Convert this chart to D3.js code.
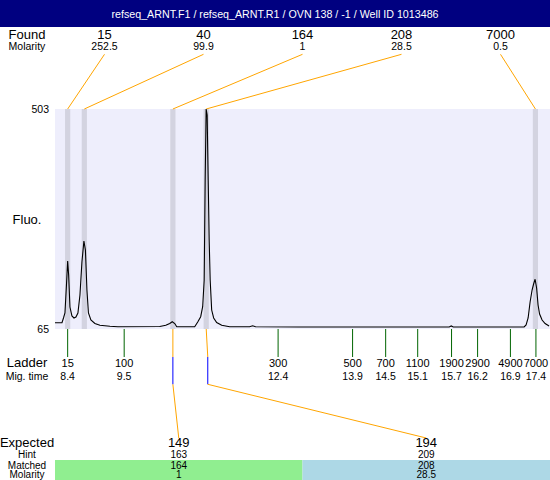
<!DOCTYPE html>
<html>
<head>
<meta charset="utf-8">
<script src="https://cdn.jsdelivr.net/npm/d3@7"></script>
<style>
  body { margin: 0; background: #fff; }
  svg { display: block; font-family: "Liberation Sans", Arial, sans-serif; }
</style>
</head>
<body>
<svg width="550" height="480"></svg>
<script>
const title = "refseq_ARNT.F1 / refseq_ARNT.R1 / OVN 138 / -1 / Well ID 1013486";

// found peaks
const foundSize = [15, 40, 164, 208, 7000];
const foundMolarity = ["252.5", "99.9", "1", "28.5", "0.5"];
const foundTime = [8.40, 8.72, 10.42, 11.06, 17.38];

// ladder (label text + measured peak position)
const ladderSize = [15, 100, 300, 500, 700, 1100, 1900, 2900, 4900, 7000];
const ladderLabel = ["8.4", "9.5", "12.4", "13.9", "14.5", "15.1", "15.7", "16.2", "16.9", "17.4"];
const ladderTime = [8.40, 9.485, 12.44, 13.87, 14.505, 15.12, 15.77, 16.27, 16.90, 17.39];

// expected fragments
const expectedSize = [149, 194];
const hintSize = [163, 209];
const hintTime = [10.42, 11.09];
const matchedSize = [164, 208];
const matchedMolarity = ["1", "28.5"];

// electropherogram trace (migration time, fluorescence)
const traceTime = [8.157, 8.291, 8.32, 8.348, 8.377, 8.40, 8.419, 8.444, 8.482, 8.521,
  8.559, 8.597, 8.636, 8.674, 8.712, 8.741, 8.770, 8.799, 8.846, 8.923,
  9.019, 9.211, 9.364, 10.168, 10.284, 10.36, 10.408, 10.456, 10.494, 10.839,
  10.897, 10.954, 10.992, 11.021, 11.040, 11.059, 11.078, 11.098, 11.117, 11.136,
  11.165, 11.203, 11.261, 11.357, 11.510, 11.893, 11.951, 12.008, 12.851, 15.725,
  15.764, 15.802, 17.163, 17.201, 17.24, 17.278, 17.316, 17.345, 17.374, 17.403,
  17.431, 17.46, 17.508, 17.566, 17.642];
const traceFluo = [77.5, 77.5, 86.9, 96.9, 152.6, 200.4, 172.5, 108.8, 90.9, 86.9,
  88.9, 96.9, 132.7, 198.4, 240.2, 222.3, 142.6, 96.9, 82.9, 75.9,
  72.4, 70.4, 69.6, 70, 72.4, 75.9, 79.5, 75.9, 69.6, 69.6,
  78.9, 89.5, 109.4, 162.5, 361.6, 503, 491, 361.6, 242, 162.5,
  102.8, 86.9, 77.9, 72.4, 69.6, 69.6, 71.4, 69.6, 69, 69,
  71, 69, 69, 73, 86.9, 118.8, 142.6, 154.6, 164, 146.6,
  112.8, 94.9, 82.9, 75.9, 71];

const yTicks = [65, 503];

const svg = d3.select("svg");
const W = 550, H = 480;
const plot = { left: 55, right: 550, top: 109, bottom: 329 };

const x = d3.scaleLinear().domain([8.157, 17.66]).range([plot.left, plot.right]);
const y = d3.scaleLinear().domain([65, 503]).range([plot.bottom, plot.top]);
const foundX = d3.scaleBand().domain(d3.range(foundSize.length)).range([plot.left, plot.right]);
const expX = d3.scaleBand().domain(d3.range(expectedSize.length)).range([plot.left, plot.right]);

const ORANGE = "#ffa500";

// title bar
svg.append("rect").attr("x", 0).attr("y", 0).attr("width", W).attr("height", 27).attr("fill", "#000080");
svg.append("text").attr("x", W / 2).attr("y", 17.5).attr("text-anchor", "middle")
    .attr("fill", "#fff").attr("font-size", 10.7).text(title);

// row labels
const rowLabel = (txt, yy, size) => svg.append("text")
    .attr("x", 27).attr("y", yy).attr("text-anchor", "middle")
    .attr("font-size", size).text(txt);

rowLabel("Found", 38.7, 13);
rowLabel("Molarity", 50, 10.5);
rowLabel("Fluo.", 224, 13);
rowLabel("Ladder", 367.3, 13);
rowLabel("Mig. time", 380.3, 10.5);
rowLabel("Expected", 447.3, 13);
rowLabel("Hint", 458.3, 10);
rowLabel("Matched", 468.6, 10);
rowLabel("Molarity", 477.8, 10);

// plot background
svg.append("rect").attr("x", plot.left).attr("y", plot.top)
    .attr("width", plot.right - plot.left).attr("height", plot.bottom - plot.top)
    .attr("fill", "#eeeefc");

// peak bands
svg.append("g").selectAll("rect").data(foundTime).join("rect")
    .attr("x", d => x(d) - 2.6).attr("width", 5.2)
    .attr("y", plot.top).attr("height", plot.bottom - plot.top)
    .attr("fill", "#d3d3e0");

// y tick labels
svg.append("g").selectAll("text").data(yTicks).join("text")
    .attr("x", 49).attr("y", d => y(d) + 4).attr("text-anchor", "end")
    .attr("font-size", 10.5).text(d => d);

// found labels and leader lines
const found = svg.append("g");
found.selectAll("text.size").data(foundSize).join("text")
    .attr("class", "size")
    .attr("x", (d, i) => foundX(i) + foundX.bandwidth() / 2).attr("y", 38.7)
    .attr("text-anchor", "middle").attr("font-size", 13).text(d => d);
found.selectAll("text.mol").data(foundMolarity).join("text")
    .attr("class", "mol")
    .attr("x", (d, i) => foundX(i) + foundX.bandwidth() / 2).attr("y", 50)
    .attr("text-anchor", "middle").attr("font-size", 10.5).text(d => d);
found.selectAll("line").data(foundTime).join("line")
    .attr("x1", (d, i) => foundX(i) + foundX.bandwidth() / 2).attr("y1", 54.3)
    .attr("x2", d => x(d)).attr("y2", plot.top)
    .attr("stroke", ORANGE).attr("stroke-width", 1);

// ladder ticks and labels
const ladder = svg.append("g");
ladder.selectAll("line").data(ladderTime).join("line")
    .attr("x1", d => x(d)).attr("x2", d => x(d))
    .attr("y1", plot.bottom).attr("y2", 357)
    .attr("stroke", "#006400").attr("stroke-width", 1);
ladder.selectAll("text.size").data(ladderSize).join("text")
    .attr("class", "size")
    .attr("x", (d, i) => x(ladderTime[i])).attr("y", 367.3)
    .attr("text-anchor", "middle").attr("font-size", 11).text(d => d);
ladder.selectAll("text.time").data(ladderLabel).join("text")
    .attr("class", "time")
    .attr("x", (d, i) => x(ladderTime[i])).attr("y", 380.3)
    .attr("text-anchor", "middle").attr("font-size", 10.5).text(d => d);

// trace
const line = d3.line().x((d, i) => x(traceTime[i])).y(d => y(d));
svg.append("path").datum(traceFluo)
    .attr("d", line).attr("fill", "none")
    .attr("stroke", "#000").attr("stroke-width", 1.1);

// matched links: found peak -> hint -> expected
const matchedIdx = matchedSize.map(s => foundSize.indexOf(s));
const links = svg.append("g");
matchedIdx.forEach((fi, j) => {
    const px = x(foundTime[fi]);
    const hx = x(hintTime[j]);
    const ex = expX(j) + expX.bandwidth() / 2;
    links.append("line")
        .attr("x1", px).attr("y1", plot.bottom).attr("x2", hx).attr("y2", 357)
        .attr("stroke", ORANGE);
    links.append("line")
        .attr("x1", hx).attr("x2", hx).attr("y1", 357).attr("y2", 384.3)
        .attr("stroke", "#0000ff");
    links.append("line")
        .attr("x1", hx).attr("y1", 384.3).attr("x2", ex).attr("y2", 438)
        .attr("stroke", ORANGE);
});

// expected table
const colors = ["#90ee90", "#add8e6"];
const table = svg.append("g");
table.selectAll("rect").data(expectedSize).join("rect")
    .attr("x", (d, i) => expX(i)).attr("width", expX.bandwidth())
    .attr("y", 460).attr("height", 20)
    .attr("fill", (d, i) => colors[i]);

const col = (arr, yy, size) => table.selectAll(null).data(arr).join("text")
    .attr("x", (d, i) => expX(i) + expX.bandwidth() / 2).attr("y", yy)
    .attr("text-anchor", "middle").attr("font-size", size).text(d => d);

col(expectedSize, 447.3, 13);
col(hintSize, 458.3, 10);
col(matchedSize, 468.6, 10);
col(matchedMolarity, 477.8, 10);
</script>
</body>
</html>
